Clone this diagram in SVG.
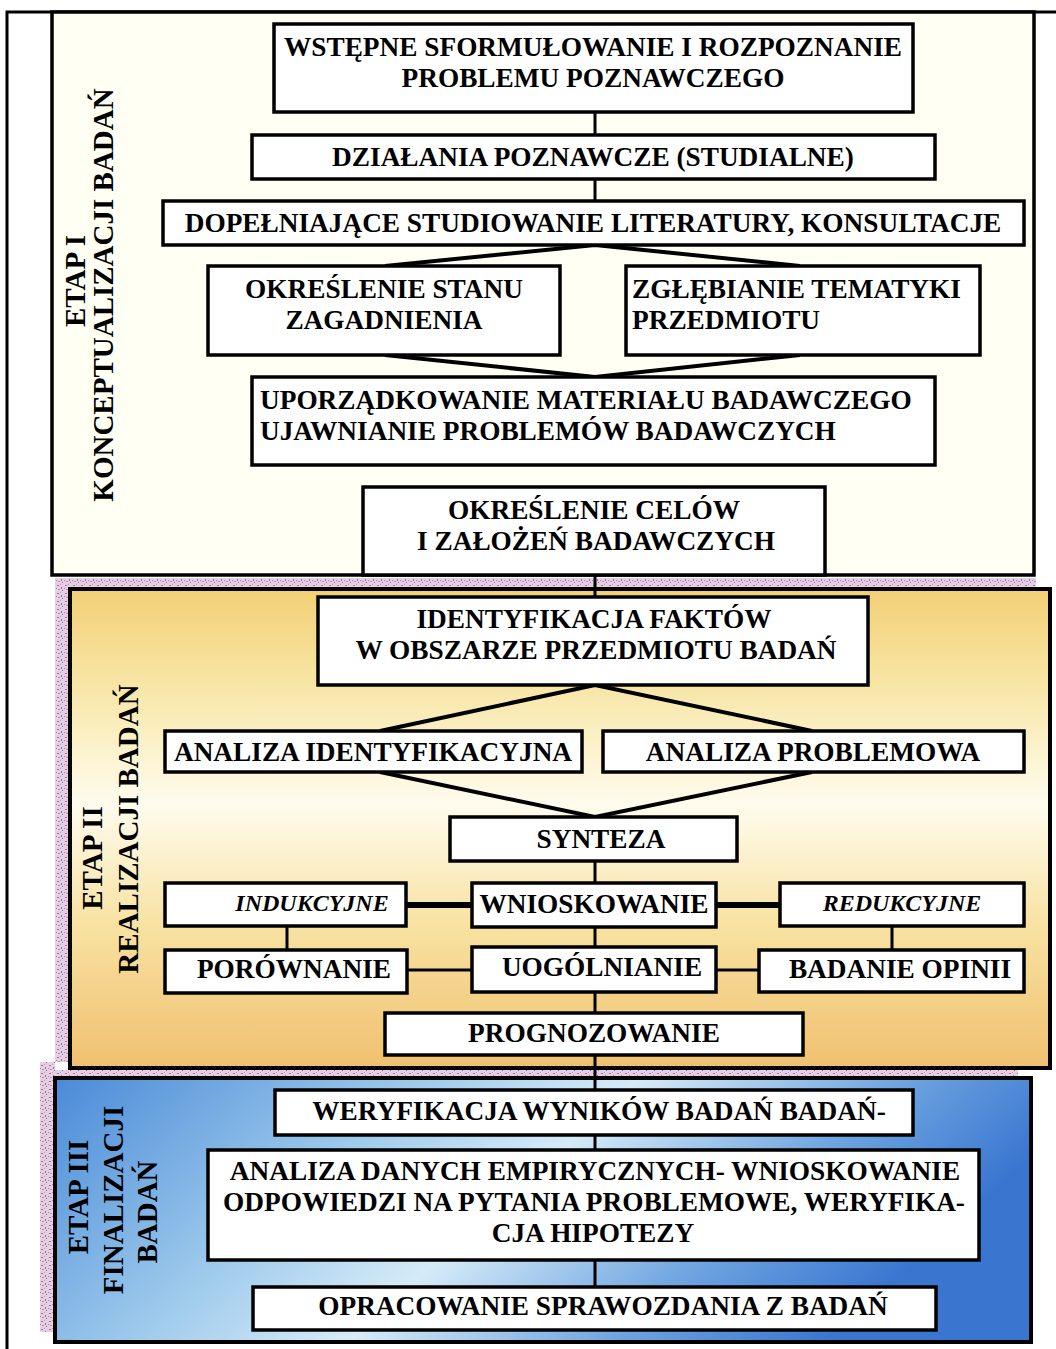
<svg xmlns="http://www.w3.org/2000/svg" width="1056" height="1349" viewBox="0 0 1056 1349">
<defs>
<style>
.box{fill:#fff;stroke:#000;stroke-width:3.5}
.t{font-family:"Liberation Serif","Times New Roman",serif;font-weight:bold;font-size:27.3px;fill:#000}
.c{text-anchor:middle}
.i{font-style:italic;font-size:24px}
.lab{font-family:"Liberation Serif","Times New Roman",serif;font-weight:bold;font-size:29px;fill:#000;text-anchor:middle}
.conn{stroke:#000;stroke-width:3;fill:none}
.v{stroke-width:4}
.thick{stroke-width:6}
.frame{fill:none;stroke:#000;stroke-width:3}
</style>
<pattern id="tex" width="8" height="8" patternUnits="userSpaceOnUse">
<rect width="8" height="8" fill="#e6cfe0"/>
<rect x="1" y="1" width="2" height="1" fill="#b866a8"/>
<rect x="5" y="3" width="1" height="2" fill="#6a7ed0"/>
<rect x="2" y="5" width="2" height="1" fill="#dc8296"/>
<rect x="6" y="6" width="1" height="1" fill="#8a5ab8"/>
<rect x="4" y="0" width="1" height="1" fill="#d090c0"/>
<rect x="0" y="4" width="1" height="1" fill="#7890d8"/>
</pattern>
<linearGradient id="g2" x1="0" y1="0" x2="0" y2="1">
<stop offset="0" stop-color="#f2cf76"/>
<stop offset="0.2" stop-color="#f8e6a6"/>
<stop offset="0.45" stop-color="#fffcee"/>
<stop offset="0.7" stop-color="#f8e2a2"/>
<stop offset="1" stop-color="#f0c070"/>
</linearGradient>
<linearGradient id="g3" x1="0" y1="0" x2="1" y2="0.3">
<stop offset="0" stop-color="#4a8ad8"/>
<stop offset="0.35" stop-color="#9fcbec"/>
<stop offset="0.55" stop-color="#d6ebf8"/>
<stop offset="0.8" stop-color="#6ea4e0"/>
<stop offset="1" stop-color="#3a76d0"/>
</linearGradient>
</defs>
<rect width="1056" height="1349" fill="#fff"/>
<g id="outer-frame">
<path class="frame" d="M7,1349 V12 H1056"/>
</g>
<g id="stage1">
<rect x="52" y="12" width="982" height="563" fill="#fffff4" stroke="#000" stroke-width="3.5"/>
<text class="lab" transform="rotate(-90 85 281)" x="85" y="281">ETAP I</text>
<text class="lab" transform="rotate(-90 113 295)" x="113" y="295">KONCEPTUALIZACJI BADAŃ</text>
</g>
<g id="stage2">
<rect x="55" y="578" width="981" height="11" fill="url(#tex)"/>
<rect x="55" y="578" width="15" height="484" fill="url(#tex)"/>
<rect x="70" y="589" width="980" height="479" fill="url(#g2)" stroke="#000" stroke-width="4"/>
<text class="lab" transform="rotate(-90 102 858)" x="102" y="858">ETAP II</text>
<text class="lab" transform="rotate(-90 138 829)" x="138" y="829">REALIZACJI BADAŃ</text>
</g>
<g id="stage3">
<rect x="40" y="1070" width="978" height="8" fill="url(#tex)"/>
<rect x="40" y="1062" width="15" height="270" fill="url(#tex)"/>
<rect x="55" y="1078" width="976" height="264" fill="url(#g3)" stroke="#000" stroke-width="4"/>
<text class="lab" transform="rotate(-90 88 1197)" x="88" y="1197">ETAP III</text>
<text class="lab" transform="rotate(-90 123 1200)" x="123" y="1200">FINALIZACJI</text>
<text class="lab" transform="rotate(-90 157 1212)" x="157" y="1212">BADAŃ</text>
</g>
<g id="connectors">
<line class="conn" x1="595" y1="112" x2="595" y2="135"/>
<line class="conn" x1="595" y1="179" x2="595" y2="201"/>
<path class="conn v" d="M385,266 L595,245 L800,266"/>
<path class="conn v" d="M385,355 L595,377 L800,355"/>
<line class="conn" x1="595" y1="575" x2="595" y2="597"/>
<path class="conn v" d="M380,731 L595,685 L812,731"/>
<path class="conn v" d="M380,772 L595,817 L812,772"/>
<line class="conn" x1="595" y1="861" x2="595" y2="883"/>
<line class="conn thick" x1="406" y1="905" x2="472" y2="905"/>
<line class="conn thick" x1="716" y1="905" x2="780" y2="905"/>
<line class="conn" x1="287" y1="926" x2="287" y2="950"/>
<line class="conn" x1="892" y1="926" x2="892" y2="950"/>
<line class="conn" x1="595" y1="927" x2="595" y2="947"/>
<line class="conn" x1="407" y1="970" x2="472" y2="970"/>
<line class="conn" x1="716" y1="970" x2="759" y2="970"/>
<line class="conn" x1="595" y1="992" x2="595" y2="1013"/>
<line class="conn" x1="595" y1="1055" x2="595" y2="1090"/>
<line class="conn" x1="595" y1="1135" x2="595" y2="1150"/>
<line class="conn" x1="595" y1="1260" x2="595" y2="1287"/>
</g>
<g id="n1"><rect class="box" x="274" y="24" width="639" height="88"/>
<text class="t c" x="593" y="56">WSTĘPNE SFORMUŁOWANIE I ROZPOZNANIE</text>
<text class="t c" x="593" y="87">PROBLEMU POZNAWCZEGO</text></g>
<g id="n2"><rect class="box" x="252" y="135" width="683" height="44"/>
<text class="t c" x="593" y="166">DZIAŁANIA POZNAWCZE (STUDIALNE)</text></g>
<g id="n3"><rect class="box" x="163" y="201" width="861" height="44"/>
<text class="t c" x="593" y="232">DOPEŁNIAJĄCE STUDIOWANIE LITERATURY, KONSULTACJE</text></g>
<g id="n4"><rect class="box" x="208" y="266" width="352" height="89"/>
<text class="t c" x="384" y="298">OKREŚLENIE STANU</text>
<text class="t c" x="384" y="329">ZAGADNIENIA</text></g>
<g id="n5"><rect class="box" x="626" y="266" width="354" height="89"/>
<text class="t" x="632" y="298">ZGŁĘBIANIE TEMATYKI</text>
<text class="t" x="632" y="329">PRZEDMIOTU</text></g>
<g id="n6"><rect class="box" x="252" y="377" width="683" height="88"/>
<text class="t" x="260" y="409">UPORZĄDKOWANIE MATERIAŁU BADAWCZEGO</text>
<text class="t" x="260" y="440">UJAWNIANIE PROBLEMÓW BADAWCZYCH</text></g>
<g id="n7"><rect class="box" x="363" y="487" width="462" height="88"/>
<text class="t c" x="594" y="519">OKREŚLENIE CELÓW</text>
<text class="t c" x="596" y="550">I ZAŁOŻEŃ BADAWCZYCH</text></g>
<g id="n8"><rect class="box" x="318" y="597" width="550" height="88"/>
<text class="t c" x="594" y="628">IDENTYFIKACJA FAKTÓW</text>
<text class="t c" x="596" y="659">W OBSZARZE PRZEDMIOTU BADAŃ</text></g>
<g id="n9"><rect class="box" x="165" y="731" width="417" height="41"/>
<text class="t c" x="373" y="761">ANALIZA IDENTYFIKACYJNA</text></g>
<g id="n10"><rect class="box" x="603" y="731" width="421" height="41"/>
<text class="t c" x="813" y="761">ANALIZA PROBLEMOWA</text></g>
<g id="n11"><rect class="box" x="450" y="817" width="287" height="44"/>
<text class="t c" x="601" y="848">SYNTEZA</text></g>
<g id="n12"><rect class="box" x="165" y="883" width="241" height="43"/>
<text class="t i c" x="312" y="911">INDUKCYJNE</text></g>
<g id="n13"><rect class="box" x="472" y="883" width="244" height="44"/>
<text class="t c" x="594" y="913">WNIOSKOWANIE</text></g>
<g id="n14"><rect class="box" x="780" y="883" width="244" height="43"/>
<text class="t i c" x="902" y="911">REDUKCYJNE</text></g>
<g id="n15"><rect class="box" x="165" y="950" width="242" height="43"/>
<text class="t c" x="294" y="978">PORÓWNANIE</text></g>
<g id="n16"><rect class="box" x="472" y="947" width="244" height="45"/>
<text class="t c" x="602" y="976">UOGÓLNIANIE</text></g>
<g id="n17"><rect class="box" x="759" y="950" width="265" height="42"/>
<text class="t c" x="900" y="978">BADANIE OPINII</text></g>
<g id="n18"><rect class="box" x="385" y="1013" width="418" height="42"/>
<text class="t c" x="594" y="1042">PROGNOZOWANIE</text></g>
<g id="n19"><rect class="box" x="275" y="1090" width="638" height="45"/>
<text class="t c" x="599" y="1120">WERYFIKACJA WYNIKÓW BADAŃ BADAŃ-</text></g>
<g id="n20"><rect class="box" x="208" y="1150" width="771" height="110"/>
<text class="t c" x="595" y="1180">ANALIZA DANYCH EMPIRYCZNYCH- WNIOSKOWANIE</text>
<text class="t c" x="594" y="1211">ODPOWIEDZI NA PYTANIA PROBLEMOWE, WERYFIKA-</text>
<text class="t c" x="593" y="1242">CJA HIPOTEZY</text></g>
<g id="n21"><rect class="box" x="253" y="1287" width="683" height="43"/>
<text class="t c" x="603" y="1315">OPRACOWANIE SPRAWOZDANIA Z BADAŃ</text></g>
</svg>
